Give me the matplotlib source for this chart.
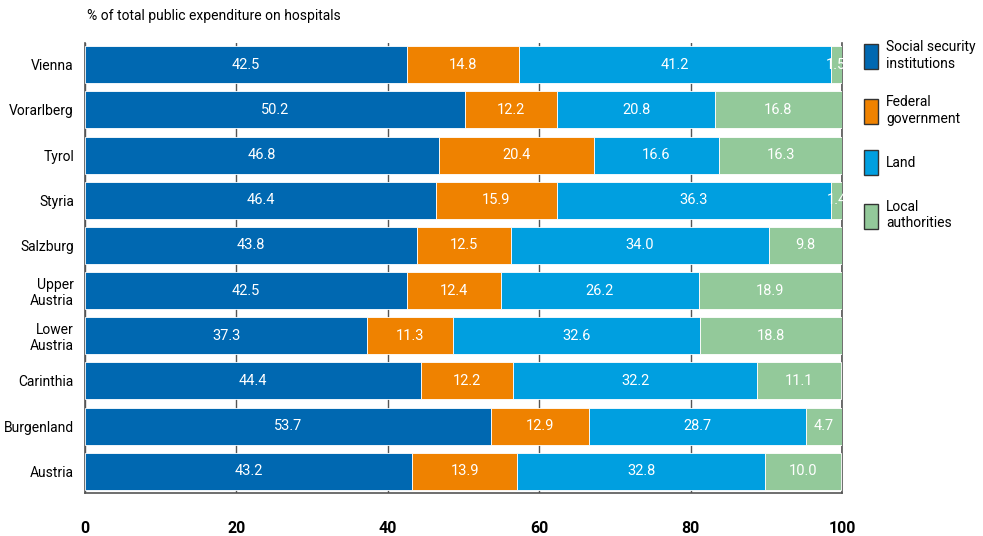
import matplotlib.pyplot as plt
import numpy as np

plt.rcParams['font.family'] = ['Roboto', 'DejaVu Sans']

regions = ['Vienna', 'Vorarlberg', 'Tyrol', 'Styria', 'Salzburg', 'Upper\nAustria',
           'Lower\nAustria', 'Carinthia', 'Burgenland', 'Austria']
social_security = [42.5, 50.2, 46.8, 46.4, 43.8, 42.5, 37.3, 44.4, 53.7, 43.2]
federal = [14.8, 12.2, 20.4, 15.9, 12.5, 12.4, 11.3, 12.2, 12.9, 13.9]
land = [41.2, 20.8, 16.6, 36.3, 34.0, 26.2, 32.6, 32.2, 28.7, 32.8]
local = [1.5, 16.8, 16.3, 1.4, 9.8, 18.9, 18.8, 11.1, 4.7, 10.0]
series_names = ['Social security\ninstitutions', 'Federal\ngovernment', 'Land', 'Local\nauthorities']
colors = ['#0068b1', '#ef8200', '#009fe0', '#93c99a']

fig = plt.figure(figsize=(9.83, 5.36), dpi=100)
ax = fig.add_axes([0.0865, 0.0802, 0.770, 0.8396])

y = np.arange(len(regions))[::-1]
left = np.zeros(len(regions))
handles = []
for vals, name, col in zip([social_security, federal, land, local], series_names, colors):
    vals = np.array(vals)
    bars = ax.barh(y, vals, left=left, height=0.82, color=col, edgecolor='white',
                   linewidth=0.6, label=name, zorder=3)
    handles.append(bars)
    for yi, l, v in zip(y, left, vals):
        ax.text(l + v / 2, yi, f'{v:.1f}', color='white', ha='center', va='center',
                fontsize=10.5, zorder=4)
    left += vals

ax.set_xlim(0, 100)
ax.set_ylim(-0.48, 9.48)
ax.set_yticks(y)
ax.set_yticklabels(regions, fontsize=10, ha='right', multialignment='right')
ax.set_xticks([0, 20, 40, 60, 80, 100])
ax.tick_params(axis='y', length=0, pad=8)
ax.tick_params(axis='x', length=0, pad=20, labelsize=11.5)
for lab in ax.get_xticklabels():
    lab.set_fontweight('bold')
ax.grid(axis='x', color='#555555', linewidth=1.0, zorder=1)
ax.grid(axis='y', visible=False)
ax.spines['top'].set_visible(False)
for s in ['left', 'bottom', 'right']:
    ax.spines[s].set_color('#555555')
    ax.spines[s].set_linewidth(1.2)

fig.text(0.0885, 0.970, '% of total public expenditure on hospitals', fontsize=10,
         ha='left', va='center')

leg = fig.legend(handles=handles, labels=series_names, loc='upper left',
                 bbox_to_anchor=(0.873, 0.935), frameon=False, fontsize=10,
                 handlelength=1.0, handleheight=2.4, labelspacing=1.78,
                 handletextpad=0.6, borderaxespad=0)
for h in leg.legend_handles:
    h.set_edgecolor('#333333')
    h.set_linewidth(1.0)

fig.savefig('out.png', dpi=100)
